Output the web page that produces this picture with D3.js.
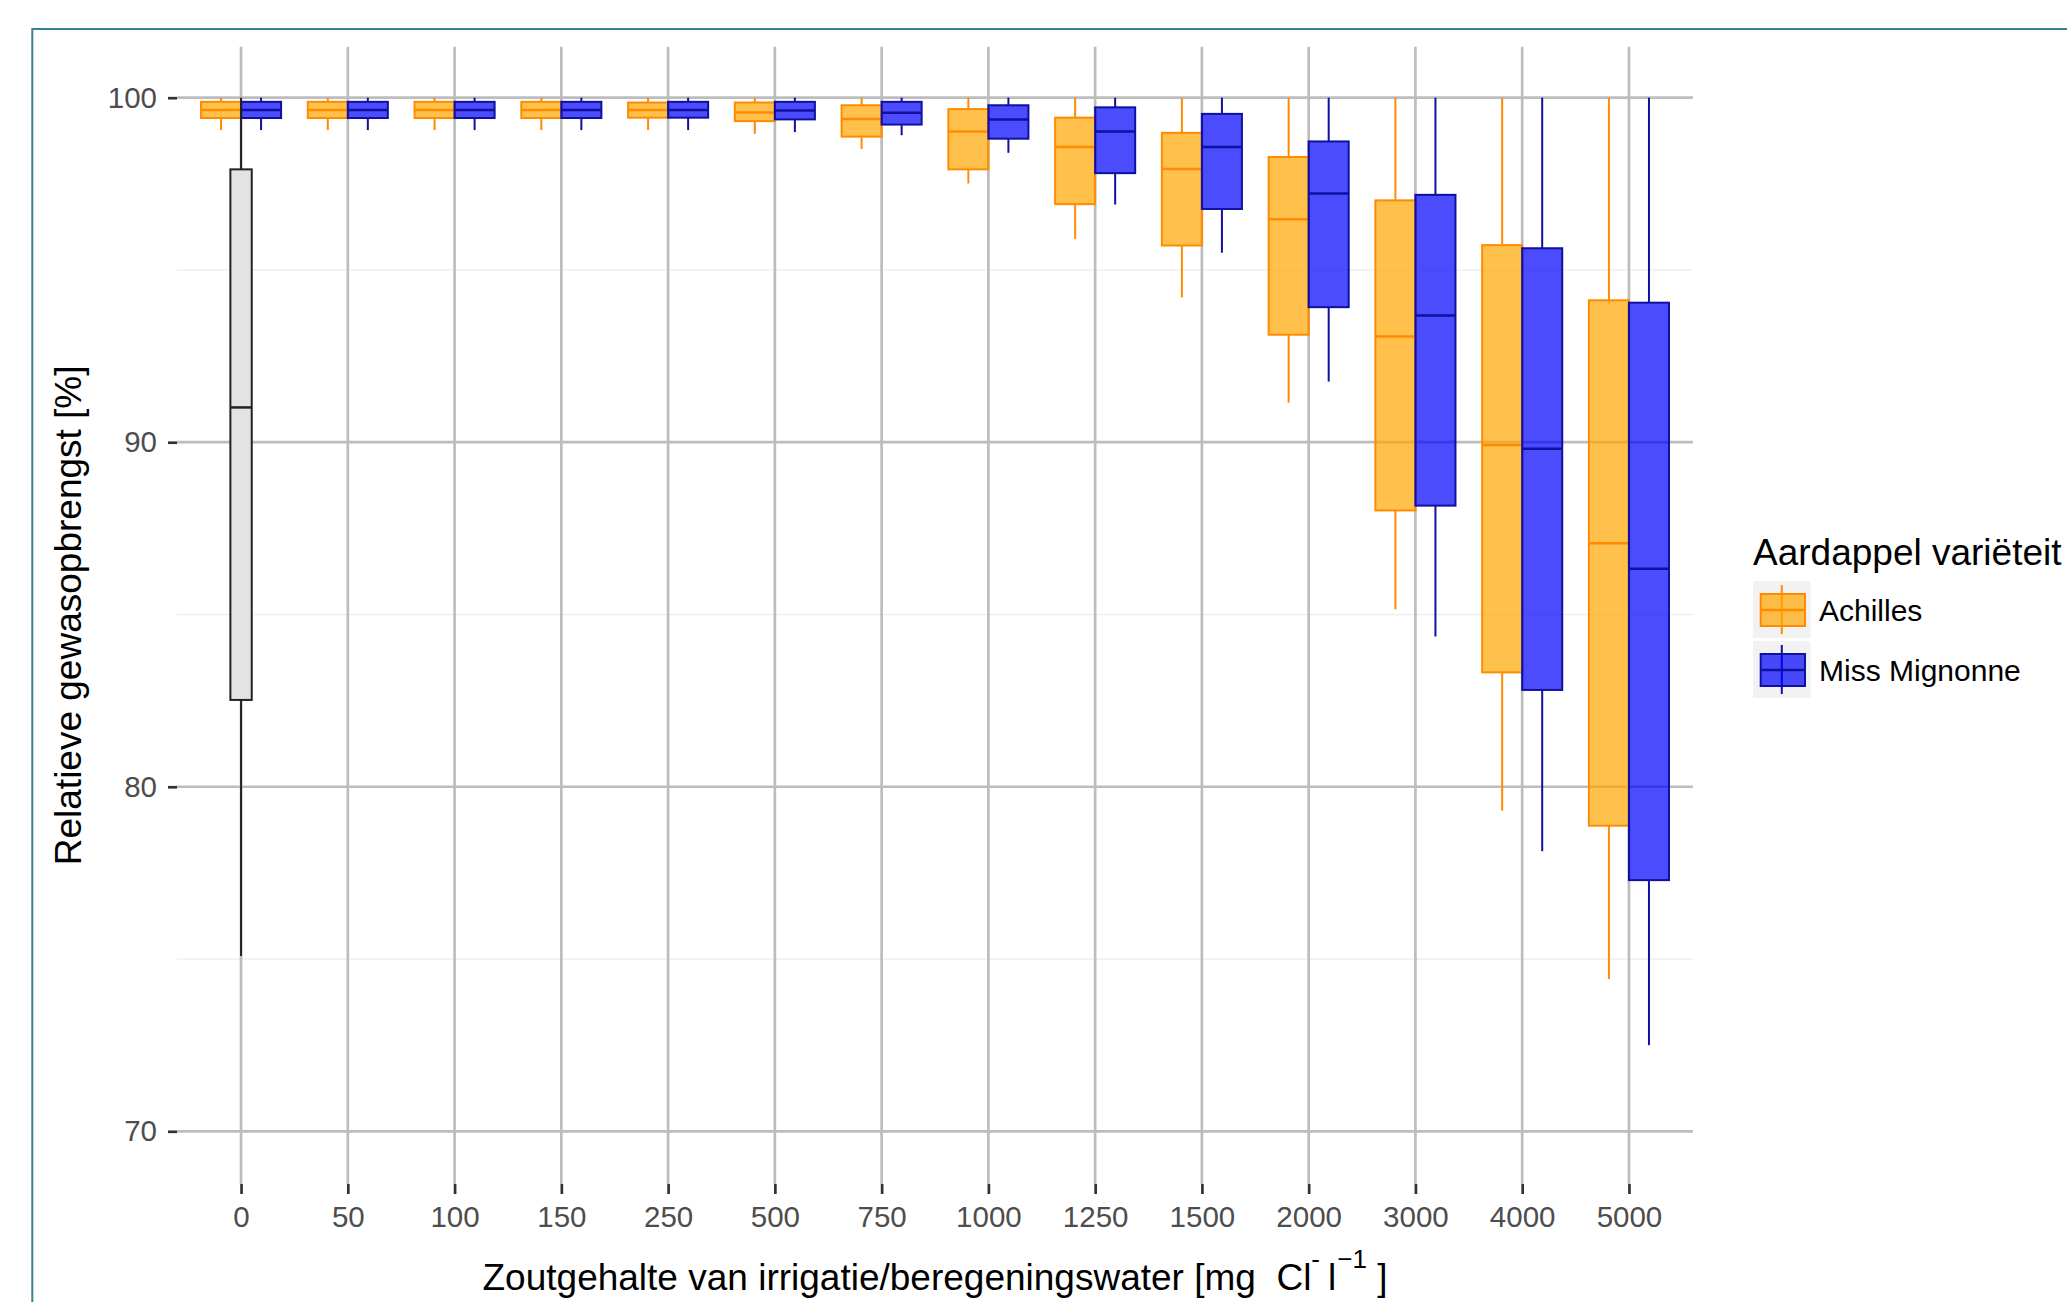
<!DOCTYPE html>
<html>
<head>
<meta charset="utf-8">
<script src="https://cdn.jsdelivr.net/npm/d3@7"></script>
<style>
  body { margin: 0; background: #fff; }
  text { font-family: "Liberation Sans", Arial, sans-serif; }
</style>
</head>
<body>
<script>
// categories on the x axis (mg Cl- per litre)
var categories = ['0', '50', '100', '150', '250', '500', '750', '1000', '1250', '1500', '2000', '3000', '4000', '5000'];
var series = ['Achilles', 'Miss Mignonne'];

// [lower whisker, q1, median, q3, upper whisker]
var achilles = [
    [99.06, 99.41, 99.64, 99.88, 100],
    [99.06, 99.41, 99.64, 99.88, 100],
    [99.06, 99.41, 99.64, 99.88, 100],
    [99.06, 99.41, 99.64, 99.88, 100],
    [99.06, 99.42, 99.64, 99.86, 100],
    [98.95, 99.32, 99.57, 99.86, 100],
    [98.51, 98.87, 99.38, 99.78, 100],
    [97.51, 97.92, 99.02, 99.67, 100],
    [95.90, 96.91, 98.57, 99.42, 100],
    [94.20, 95.71, 97.93, 98.98, 100],
    [91.15, 93.12, 96.47, 98.28, 100],
    [85.15, 88.02, 93.07, 97.02, 100],
    [79.31, 83.32, 89.92, 95.72, 100],
    [74.42, 78.87, 87.07, 94.12, 100]
];
var missMignonne = [
    [99.06, 99.41, 99.64, 99.88, 100],
    [99.06, 99.41, 99.64, 99.88, 100],
    [99.06, 99.41, 99.64, 99.88, 100],
    [99.06, 99.41, 99.64, 99.88, 100],
    [99.06, 99.42, 99.64, 99.88, 100],
    [99.00, 99.37, 99.63, 99.88, 100],
    [98.91, 99.22, 99.56, 99.88, 100],
    [98.40, 98.81, 99.37, 99.78, 100],
    [96.90, 97.81, 99.02, 99.72, 100],
    [95.50, 96.77, 98.57, 99.53, 100],
    [91.76, 93.92, 97.22, 98.73, 100],
    [84.36, 88.16, 93.68, 97.18, 100],
    [78.13, 82.81, 89.81, 95.63, 100],
    [72.50, 77.29, 86.33, 94.05, 100]
];
// grey reference box drawn at the 0 category
var referenceCategory = '0';
var referenceBox = [75.09, 82.52, 91.01, 97.92, 100];

var yTicks = [70, 80, 90, 100];
var yMinor = [75, 85, 95];

var width = 2067;
var height = 1302;
var panel = { left: 177, right: 1693, top: 46.7, bottom: 1184 };

var fills = { 'Achilles': '#FFA500', 'Miss Mignonne': '#0000FF' };
var strokes = { 'Achilles': '#FF8C00', 'Miss Mignonne': '#1010A0' };

var svg = d3.select('body')
    .append('svg')
    .attr('width', width)
    .attr('height', height);

svg.append('rect')
    .attr('width', width)
    .attr('height', height)
    .attr('fill', '#fff');

// outer frame
svg.append('rect')
    .attr('x', 32.3)
    .attr('y', 29)
    .attr('width', width)
    .attr('height', height)
    .attr('fill', 'none')
    .attr('stroke', '#3d7f95')
    .attr('stroke-width', 2);

// scales
var x = d3.scalePoint()
    .domain(categories)
    .range([panel.left, panel.right])
    .padding(0.6);
var step = x.step();
var dodge = d3.scaleBand()
    .domain(series)
    .range([-0.375 * step, 0.375 * step]);
var y = d3.scaleLinear()
    .domain([68.47, 101.48])
    .range([panel.bottom, panel.top]);

// grid
var grid = svg.append('g');
grid.selectAll('.minor')
    .data(yMinor)
    .enter().append('line')
    .attr('x1', panel.left).attr('x2', panel.right)
    .attr('y1', d => y(d)).attr('y2', d => y(d))
    .attr('stroke', '#efefef')
    .attr('stroke-width', 1.5);
grid.selectAll('.major')
    .data(yTicks)
    .enter().append('line')
    .attr('x1', panel.left).attr('x2', panel.right)
    .attr('y1', d => y(d)).attr('y2', d => y(d))
    .attr('stroke', '#bdbdbd')
    .attr('stroke-width', 2.7);
grid.selectAll('.vmajor')
    .data(categories)
    .enter().append('line')
    .attr('x1', d => x(d)).attr('x2', d => x(d))
    .attr('y1', panel.top).attr('y2', panel.bottom)
    .attr('stroke', '#bdbdbd')
    .attr('stroke-width', 2.7);

// draws one box (whisker, box, median) into g
function drawBox(g, cx, w, s, fill, fillOpacity, stroke, sw) {
    g.append('line')
        .attr('x1', cx).attr('x2', cx)
        .attr('y1', y(s[4])).attr('y2', y(s[3]))
        .attr('stroke', stroke).attr('stroke-width', sw);
    g.append('line')
        .attr('x1', cx).attr('x2', cx)
        .attr('y1', y(s[1])).attr('y2', y(s[0]))
        .attr('stroke', stroke).attr('stroke-width', sw);
    g.append('rect')
        .attr('x', cx - w / 2)
        .attr('y', y(s[3]))
        .attr('width', w)
        .attr('height', y(s[1]) - y(s[3]))
        .attr('fill', fill)
        .attr('fill-opacity', fillOpacity)
        .attr('stroke', stroke)
        .attr('stroke-width', sw);
    g.append('line')
        .attr('x1', cx - w / 2).attr('x2', cx + w / 2)
        .attr('y1', y(s[2])).attr('y2', y(s[2]))
        .attr('stroke', stroke).attr('stroke-width', sw + 0.5);
}

var boxes = svg.append('g');
var seriesData = { 'Achilles': achilles, 'Miss Mignonne': missMignonne };
series.forEach(function (name) {
    seriesData[name].forEach(function (s, i) {
        var cx = x(categories[i]) + dodge(name) + dodge.bandwidth() / 2;
        drawBox(boxes, cx, dodge.bandwidth(), s, fills[name], 0.7, strokes[name], 2);
    });
});

// grey reference box on top
drawBox(svg.append('g'), x(referenceCategory), 0.2 * step, referenceBox, '#e3e3e3', 1, '#222', 2);

// axes
var yAxis = svg.append('g')
    .attr('transform', 'translate(' + panel.left + ',0)')
    .call(d3.axisLeft(y).tickValues(yTicks).tickSize(9).tickPadding(11));
var xAxis = svg.append('g')
    .attr('transform', 'translate(0,' + panel.bottom + ')')
    .call(d3.axisBottom(x).tickSize(10).tickPadding(12));

[yAxis, xAxis].forEach(function (a) {
    a.select('.domain').remove();
    a.selectAll('.tick line').attr('stroke', '#333').attr('stroke-width', 2.7);
    a.selectAll('.tick text')
        .attr('fill', '#4d4d4d')
        .style('font-size', '29.5px')
        .style('font-family', '"Liberation Sans", Arial, sans-serif');
});

// axis titles
svg.append('text')
    .attr('transform', 'translate(81,' + (panel.top + panel.bottom) / 2 + ') rotate(-90)')
    .attr('text-anchor', 'middle')
    .style('font-size', '37px')
    .text('Relatieve gewasopbrengst [%]');

var xTitle = svg.append('text')
    .attr('x', (panel.left + panel.right) / 2)
    .attr('y', 1290)
    .attr('text-anchor', 'middle')
    .style('font-size', '37px')
    .style('white-space', 'pre');
xTitle.append('tspan').text('Zoutgehalte van irrigatie/beregeningswater [mg  Cl');
xTitle.append('tspan').attr('dy', -22).style('font-size', '26px').text('-');
xTitle.append('tspan').attr('dy', 22).attr('dx', 8).text('l');
xTitle.append('tspan').attr('dy', -22).attr('dx', 1).style('font-size', '26px').text('\u22121');
xTitle.append('tspan').attr('dy', 22).text(' ]');

// legend
var legend = svg.append('g');
legend.append('text')
    .attr('x', 1753)
    .attr('y', 565)
    .style('font-size', '37px')
    .text('Aardappel variëteit');

series.forEach(function (name, i) {
    var k = legend.append('g')
        .attr('transform', 'translate(1753,' + (581 + i * 60) + ')');
    k.append('rect')
        .attr('width', 57.6).attr('height', 57)
        .attr('fill', '#f2f2f2');
    k.append('line')
        .attr('x1', 28.8).attr('x2', 28.8)
        .attr('y1', 4).attr('y2', 53)
        .attr('stroke', strokes[name]).attr('stroke-width', 2);
    k.append('rect')
        .attr('x', 7.7).attr('y', 13)
        .attr('width', 44.3).attr('height', 32)
        .attr('fill', fills[name]).attr('fill-opacity', 0.7)
        .attr('stroke', strokes[name]).attr('stroke-width', 2);
    k.append('line')
        .attr('x1', 7.7).attr('x2', 52)
        .attr('y1', 29).attr('y2', 29)
        .attr('stroke', strokes[name]).attr('stroke-width', 2.5);
    k.append('text')
        .attr('x', 66)
        .attr('y', 29.5)
        .attr('dy', '0.35em')
        .style('font-size', '30px')
        .text(name);
});
</script>
</body>
</html>
